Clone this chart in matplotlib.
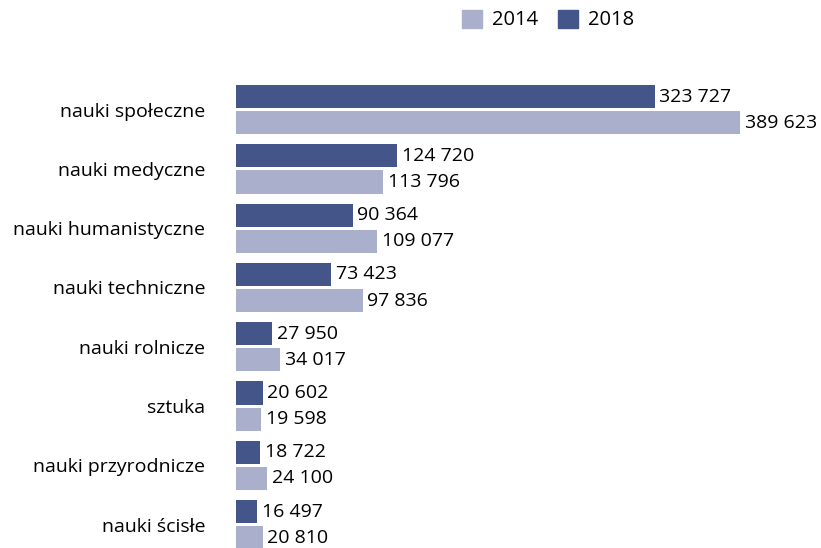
import numpy as np
import matplotlib.pyplot as plt
from matplotlib.patches import Patch

categories = ["nauki społeczne", "nauki medyczne", "nauki humanistyczne",
              "nauki techniczne", "nauki rolnicze", "sztuka",
              "nauki przyrodnicze", "nauki ścisłe"]
v2018 = [323727, 124720, 90364, 73423, 27950, 20602, 18722, 16497]
v2014 = [389623, 113796, 109077, 97836, 34017, 19598, 24100, 20810]

c2014 = "#aab0cb"
c2018 = "#44558a"

plt.rcParams["font.family"] = ["Open Sans", "DejaVu Sans"]

def fmt(v):
    return f"{v:,}".replace(",", " ")

fig = plt.figure(figsize=(8.21, 5.48), dpi=100)
ax = fig.add_axes([236 / 821, 0, 1 - 236 / 821, 1 - 80 / 548])

y = np.arange(len(categories))
h = 0.39
ax.barh(y - 0.22, v2018, height=h, color=c2018)
ax.barh(y + 0.22, v2014, height=h, color=c2014)

for yi, a, b in zip(y, v2018, v2014):
    ax.text(a + 3500, yi - 0.22, fmt(a), va="center", ha="left", fontsize=14)
    ax.text(b + 3500, yi + 0.22, fmt(b), va="center", ha="left", fontsize=14)

ax.set_yticks(y)
ax.set_yticklabels(categories, fontsize=14)
ax.tick_params(axis="y", length=0, pad=22)
ax.set_xticks([])
ax.set_xlim(0, 452260)
ax.set_ylim(7.395, -0.5)
for s in ax.spines.values():
    s.set_visible(False)

handles = [Patch(color=c2014, label="2014"), Patch(color=c2018, label="2018")]
fig.legend(handles=handles, loc="center", bbox_to_anchor=(548 / 821, 1 - 20 / 548),
           ncol=2, frameon=False, fontsize=14.5, handlelength=1.0, handleheight=1.0,
           handletextpad=0.5, columnspacing=1.0)

fig.savefig("out.png", dpi=100)
